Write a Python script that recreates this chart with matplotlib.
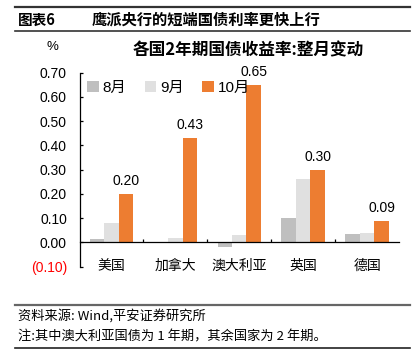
import matplotlib
matplotlib.use("Agg")
import matplotlib.pyplot as plt
import numpy as np
from matplotlib.lines import Line2D

plt.rcParams['font.family'] = ['Liberation Sans', 'Noto Sans CJK SC', 'DejaVu Sans']

categories = ['美国', '加拿大', '澳大利亚', '英国', '德国']
series_names = ['8月', '9月', '10月']
aug = [0.015, 0.00, -0.02, 0.10, 0.035]
sep = [0.08, 0.02, 0.03, 0.26, 0.04]
octo = [0.20, 0.43, 0.65, 0.30, 0.09]
yticks = [-0.10, 0.0, 0.10, 0.20, 0.30, 0.40, 0.50, 0.60, 0.70]
colors = ['#BFBFBF', '#E0E0E0', '#ED7D31']

W, H = 416, 361
fig = plt.figure(figsize=(W / 100, H / 100), dpi=100)

def fx(px):
    return px / W

def fy(py):
    return 1 - py / H

# header
fig.add_artist(Line2D([fx(15), fx(410)], [fy(6.5), fy(6.5)], color='#333333', lw=1.6))
fig.add_artist(Line2D([fx(15), fx(410)], [fy(31), fy(31)], color='#333333', lw=1.2))
fig.text(fx(18), fy(19.5), '图表6', fontsize=10.5, fontweight='bold', va='center',
         family=['Noto Sans CJK SC'])
fig.text(fx(92), fy(19.5), '鹰派央行的短端国债利率更快上行', fontsize=11, fontweight='bold',
         va='center', family=['Noto Sans CJK SC'])

# chart title
fig.text(fx(248), fy(50), '各国2年期国债收益率:整月变动', fontsize=12, fontweight='bold',
         ha='center', va='center', family=['Noto Sans CJK SC', 'Liberation Sans'])
fig.text(fx(52), fy(47), '%', fontsize=9.5, ha='center', va='center')

ax = fig.add_axes([fx(79.5), fy(266.7), fx(399) - fx(79.5), fy(72.7) - fy(266.7)])
x = np.arange(len(categories))
bw = 0.226
for i, (vals, name) in enumerate(zip([aug, sep, octo], series_names)):
    ax.bar(x + (i - 1) * bw, vals, width=bw, color=colors[i], label=name, zorder=2)

for xi, v in zip(x, octo):
    ax.text(xi + bw, v + 0.025, f'{v:.2f}', ha='center', va='bottom', fontsize=10)

ax.set_xlim(-0.5, len(categories) - 0.5)
ax.set_ylim(-0.10, 0.70)
ax.set_yticks(yticks)
labels = []
for t in yticks:
    labels.append(f'({abs(t):.2f})' if t < 0 else f'{t:.2f}')
ax.set_yticklabels(labels, fontsize=10)
ax.get_yticklabels()[0].set_color('red')

ax.spines['top'].set_visible(False)
ax.spines['right'].set_visible(False)
ax.spines['bottom'].set_position(('data', 0))
ax.spines['left'].set_linewidth(0.9)
ax.spines['bottom'].set_linewidth(0.9)
ax.tick_params(axis='y', direction='in', length=2.5, width=0.9, pad=9)
ax.set_xticks(x)
ax.set_xticklabels(categories, fontsize=10, family=['Noto Sans CJK SC'])
ax.set_xticks(np.arange(0.5, len(categories) - 1, 1.0), minor=True)
ax.tick_params(axis='x', which='major', length=0, pad=12)
ax.tick_params(axis='x', which='minor', direction='in', length=2, width=0.9)
ax.set_facecolor('none')

leg = ax.legend(loc='upper left', ncol=3, frameon=False,
                handlelength=0.75, handleheight=0.75, handletextpad=0.25,
                columnspacing=1.2, bbox_to_anchor=(-0.018, 1.03),
                prop={'family': ['Liberation Sans', 'Noto Sans CJK SC'], 'size': 11})

# footer
fig.add_artist(Line2D([fx(15), fx(410)], [fy(305), fy(305)], color='#666666', lw=1.6))
fig.text(fx(18), fy(315.5), '资料来源: Wind,平安证券研究所', fontsize=9.5, style='italic',
         va='center', family=['Noto Sans CJK SC', 'Liberation Sans'])
fig.text(fx(18), fy(337), '注:其中澳大利亚国债为 1 年期，其余国家为 2 年期。', fontsize=9.5,
         style='italic', va='center', family=['Noto Sans CJK SC', 'Liberation Sans'])
fig.add_artist(Line2D([fx(15), fx(410)], [fy(347.5), fy(347.5)], color='#222222', lw=1.2))

fig.savefig('out.png', dpi=100)
